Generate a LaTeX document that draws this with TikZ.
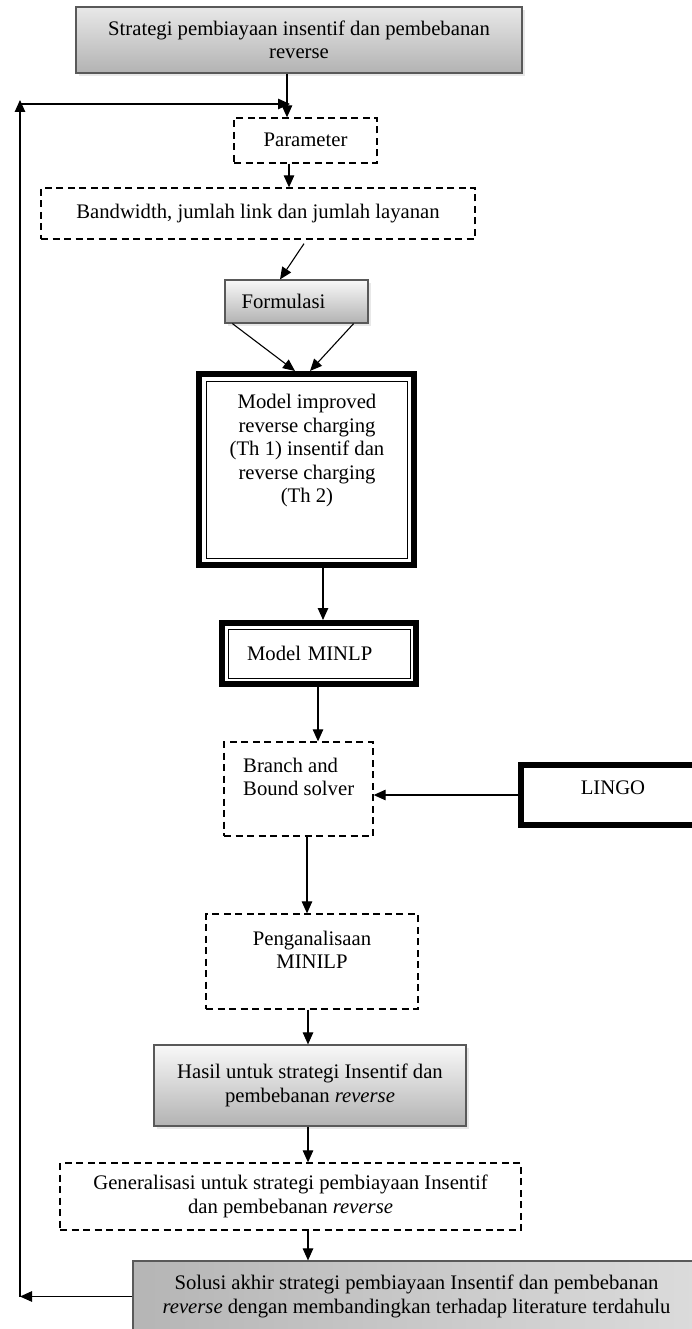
\documentclass[tikz,border=0pt]{standalone}
\usepackage{fontspec}
\setmainfont{Liberation Serif}
\usetikzlibrary{arrows.meta,shadows,calc}

\tikzset{
  txt/.style={font=\fontsize{20.7}{23.5}\selectfont, align=center, inner sep=0pt},
  dashbox/.style={draw, line width=1.3pt, dash pattern=on 7pt off 4.5pt},
  greybox/.style={draw=black!65, line width=1.2pt, top color=gray!5, bottom color=gray!60,
    drop shadow={shadow xshift=3pt, shadow yshift=-3pt, fill=gray!35}},
  heavybox/.style={draw, line width=6pt},
  arr/.style={-{Triangle[length=12pt,width=10.5pt]}, line width=1.1pt},
}

\begin{document}
\begin{tikzpicture}[x=1pt, y=-1pt]
\useasboundingbox (0,0) rectangle (692,1329);

% Draw top boxes
\node[greybox, txt, top color=gray!18, minimum width=446pt, minimum height=66pt] (strat) at (299,40)
  {Strategi pembiayaan insentif dan pembebanan\\reverse};
\node[dashbox, minimum width=143pt, minimum height=45pt] (par) at (305.5,140.5) {};
\node[txt] (partxt) at (305.5,140) {Parameter};
\node[dashbox, txt, minimum width=434pt, minimum height=51pt] (bw) at (258,213.5)
  {Bandwidth, jumlah link dan jumlah layanan};
\node[greybox, txt, text width=110pt, align=left, minimum width=143pt, minimum height=43pt] (form) at (296.5,301.5)
  {Formulasi};

% Draw model boxes
\node[heavybox, minimum width=215pt, minimum height=191pt] (model) at (306.5,469.5) {};
\draw[line width=0.9pt] ($(model.north west)+(10,10)$) rectangle ($(model.south east)+(-10,-10)$);
\node[txt] (modeltxt) at (307,451)
  {Model improved\\reverse charging\\(Th 1) insentif dan\\reverse charging\\(Th 2)};
\node[heavybox, txt, text width=144pt, align=left, minimum width=194pt, minimum height=61pt] (minlp) at (319,653.5)
  {Model MINLP};
\draw[line width=0.9pt] ($(minlp.north west)+(9,9)$) rectangle ($(minlp.south east)+(-9,-9)$);

% Draw solver boxes
\node[dashbox, minimum width=149pt, minimum height=94pt] (bnb) at (298.5,789) {};
\node[txt, anchor=west, align=left] (bnbtxt) at (243,777) {Branch and\\Bound solver};
\node[heavybox, minimum width=184pt, minimum height=60pt] (lingo) at (613,795) {};
\node[txt] (lingotxt) at (613,788) {LINGO};
\node[dashbox, minimum width=212pt, minimum height=95pt] (anl) at (312,961.5) {};
\node[txt] (anltxt) at (312,950) {Penganalisaan\\MINILP};

% Draw result boxes
\node[greybox, txt, minimum width=312pt, minimum height=81pt] (hasil) at (310,1085.5)
  {Hasil untuk strategi Insentif dan\\pembebanan \textit{reverse}};
\node[dashbox, txt, minimum width=461pt, minimum height=67pt] (gen) at (290.5,1196.5)
  {Generalisasi untuk strategi pembiayaan Insentif\\dan pembebanan \textit{reverse}};
\node[draw=black!65, line width=1.2pt, left color=gray!58, right color=gray!28, txt,
  minimum width=567pt, minimum height=71pt] (sol) at (416.5,1296.5)
  {Solusi akhir strategi pembiayaan Insentif dan pembebanan\\\textit{reverse} dengan membandingkan terhadap literature terdahulu};

% Feedback line
\coordinate (fbbot) at (20,1296.5);
\coordinate (fbtop) at (20,100);
\coordinate (fbjoin) at (20,104);
\coordinate (fbend) at (290,104);

% Draw arrows
\draw[arr] ([xshift=-12pt]strat.south) -- ([xshift=-12pt]strat.south |- par.north);
\draw[arr] (sol.west) -- (fbbot);
\draw[arr] (fbbot) -- (fbtop);
\draw[arr] (fbjoin) -- (fbend);
\draw[arr] ([xshift=-16.5pt]par.south) -- ([xshift=-16.5pt]par.south |- bw.north);
\draw[arr] ([xshift=46pt, yshift=-4pt]bw.south) -- ([xshift=-16.5pt]form.north);
\draw[arr] ([xshift=8pt]form.south west) -- ([xshift=-11.5pt]model.north);
\draw[arr] ([xshift=-15pt]form.south east) -- ([xshift=3.5pt]model.north);
\draw[arr] ([xshift=16.5pt]model.south) -- ([xshift=16.5pt]model.south |- minlp.north);
\draw[arr] ([xshift=-1pt]minlp.south) -- ([xshift=-1pt]minlp.south |- bnb.north);
\draw[arr] (lingo.west) -- (lingo.west -| bnb.east);
\draw[arr] ([xshift=8.5pt]bnb.south) -- ([xshift=8.5pt]bnb.south |- anl.north);
\draw[arr] ([xshift=-4pt]anl.south) -- ([xshift=-4pt]anl.south |- hasil.north);
\draw[arr] ([xshift=-2pt]hasil.south) -- ([xshift=-2pt]hasil.south |- gen.north);
\draw[arr] ([xshift=17.5pt]gen.south) -- ([xshift=17.5pt]gen.south |- sol.north);
\end{tikzpicture}
\end{document}
